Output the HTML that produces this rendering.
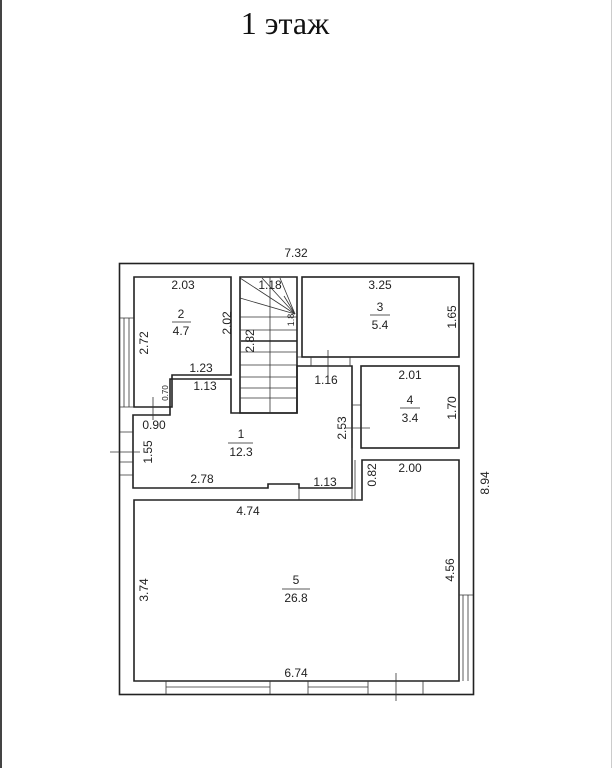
<!DOCTYPE html>
<html><head><meta charset="utf-8"><style>
html,body{margin:0;padding:0;background:#fff;}
svg{display:block;}
text{font-family:"Liberation Sans",sans-serif;font-size:12px;fill:#222;}
</style></head><body>
<svg width="613" height="768" viewBox="0 0 613 768" xmlns="http://www.w3.org/2000/svg">
<line x1="1" y1="0" x2="1" y2="768" stroke="#444" stroke-width="2"/>
<line x1="611.5" y1="0" x2="611.5" y2="768" stroke="#ccc" stroke-width="1"/>
<text x="285" y="34" style="font-family:'Liberation Serif',serif;font-size:32px;fill:#111" text-anchor="middle">1 этаж</text>
<g fill="none" stroke="#222" stroke-width="1.6">
<rect x="119.5" y="263.5" width="354" height="431"/>
<path d="M134 277 H231 V375 H172 V407 H134 Z"/>
<path d="M240 277 H297 V413 H240 Z"/>
<path d="M133 415 H170 V379 H231 V413 H297 V366 H352 V488 H299 V484 H268 V488 H133 Z"/>
<rect x="302" y="277" width="157" height="80"/>
<rect x="361" y="366" width="98" height="82"/>
<path d="M134 500 H362 V460 H459 V681 H134 Z"/>
</g>
<g fill="none" stroke="#333" stroke-width="0.8">
<line x1="270" y1="277" x2="270" y2="413"/>
<line x1="240" y1="317" x2="297" y2="317"/>
<line x1="240" y1="330" x2="297" y2="330"/>
<line x1="240" y1="352" x2="297" y2="352"/>
<line x1="240" y1="365" x2="297" y2="365"/>
<line x1="240" y1="377" x2="297" y2="377"/>
<line x1="240" y1="388" x2="297" y2="388"/>
<line x1="240" y1="398" x2="297" y2="398"/>
<line x1="240" y1="278" x2="295" y2="314"/>
<line x1="240" y1="298" x2="295" y2="314"/>
<line x1="262" y1="278" x2="295" y2="314"/>
<line x1="280" y1="278" x2="295" y2="314"/>
<line x1="284" y1="296" x2="295" y2="314"/>
<path d="M120 318 H134 M120 407 H134 M124 318 V407 M129 318 V407"/>
<path d="M120 432 H133 M120 462 H133 M120 475 H133"/>
<path d="M110 452 H140"/>
<path d="M153 397 V420"/>
<path d="M297 357 H302 M311 357 V366 M350 357 V366"/>
<path d="M328 350 V378"/>
<path d="M352 405 H361 M352 448 V500 M355 460 V500 M352 500 H362"/>
<path d="M345 428 H370"/>
<path d="M459 595 H473 M463 595 V681 M468 595 V681"/>
<path d="M166 681 V694 M270 681 V694 M308 681 V694 M368 681 V694 M423 681 V694 M166 687 H270 M308 687 H368"/>
<path d="M396 673 V701"/>
<path d="M299 488 V500"/>
</g>
<line x1="241" y1="341" x2="297" y2="341" stroke="#222" stroke-width="1.6"/>
<text x="296" y="257" text-anchor="middle">7.32</text>
<text x="183" y="289" text-anchor="middle">2.03</text>
<text x="181" y="318" text-anchor="middle">2</text>
<line x1="172" y1="322" x2="191" y2="322" stroke="#222" stroke-width="0.8"/>
<text x="181" y="335" text-anchor="middle">4.7</text>
<text transform="translate(148,343) rotate(-90)" text-anchor="middle">2.72</text>
<text transform="translate(231,323) rotate(-90)" text-anchor="middle">2.02</text>
<text x="201" y="372" text-anchor="middle">1.23</text>
<text x="205" y="390" text-anchor="middle">1.13</text>
<text transform="translate(168,393) rotate(-90)" text-anchor="middle" style="font-size:8px">0.70</text>
<text x="154" y="429" text-anchor="middle">0.90</text>
<text transform="translate(152,452) rotate(-90)" text-anchor="middle">1.55</text>
<text x="270" y="289" text-anchor="middle">1.18</text>
<text transform="translate(254,341) rotate(-90)" text-anchor="middle">2.82</text>
<text transform="translate(294,320) rotate(-90)" text-anchor="middle" style="font-size:9px">1.8</text>
<text x="380" y="289" text-anchor="middle">3.25</text>
<text x="380" y="311" text-anchor="middle">3</text>
<line x1="370" y1="315" x2="390" y2="315" stroke="#222" stroke-width="0.8"/>
<text x="380" y="329" text-anchor="middle">5.4</text>
<text transform="translate(456,317) rotate(-90)" text-anchor="middle">1.65</text>
<text x="326" y="384" text-anchor="middle">1.16</text>
<text x="410" y="379" text-anchor="middle">2.01</text>
<text x="410" y="404" text-anchor="middle">4</text>
<line x1="400" y1="408" x2="420" y2="408" stroke="#222" stroke-width="0.8"/>
<text x="410" y="422" text-anchor="middle">3.4</text>
<text transform="translate(456,408) rotate(-90)" text-anchor="middle">1.70</text>
<text transform="translate(346,428) rotate(-90)" text-anchor="middle">2.53</text>
<text x="241" y="438" text-anchor="middle">1</text>
<line x1="228" y1="443" x2="253" y2="443" stroke="#222" stroke-width="0.8"/>
<text x="241" y="456" text-anchor="middle">12.3</text>
<text x="202" y="483" text-anchor="middle">2.78</text>
<text x="325" y="486" text-anchor="middle">1.13</text>
<text transform="translate(376,475) rotate(-90)" text-anchor="middle">0.82</text>
<text x="410" y="472" text-anchor="middle">2.00</text>
<text transform="translate(489,483) rotate(-90)" text-anchor="middle">8.94</text>
<text x="248" y="515" text-anchor="middle">4.74</text>
<text transform="translate(148,590) rotate(-90)" text-anchor="middle">3.74</text>
<text x="296" y="584" text-anchor="middle">5</text>
<line x1="282" y1="589" x2="310" y2="589" stroke="#222" stroke-width="0.8"/>
<text x="296" y="602" text-anchor="middle">26.8</text>
<text transform="translate(454,570) rotate(-90)" text-anchor="middle">4.56</text>
<text x="296" y="677" text-anchor="middle">6.74</text>
</svg>
</body></html>
